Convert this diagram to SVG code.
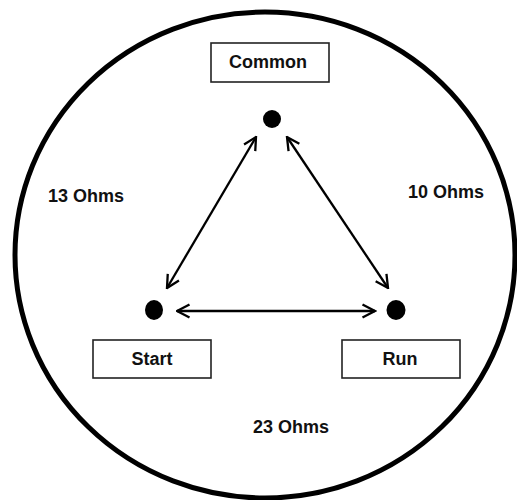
<svg xmlns="http://www.w3.org/2000/svg" width="517" height="500" viewBox="0 0 517 500">
<style>
.box{fill:#fff;stroke:#222;stroke-width:1.6}
.lbl{font-family:"Liberation Sans",Arial,sans-serif;font-weight:bold;font-size:18px;fill:#111;text-anchor:middle}
.dot{fill:#000}
.conn{stroke:#000;stroke-width:2.3;fill:none;marker-start:url(#ah);marker-end:url(#ah)}
</style>
<defs>
<marker id="ah" viewBox="0 0 16 16" refX="14.5" refY="8" markerWidth="16" markerHeight="16" markerUnits="userSpaceOnUse" orient="auto-start-reverse">
<path d="M2,1.5 L14.5,8 L2,14.5" fill="none" stroke="#000" stroke-width="2.3"/>
</marker>
</defs>
<rect width="517" height="500" fill="#fff"/>
<ellipse id="housing" cx="265" cy="255" rx="250" ry="243" fill="none" stroke="#000" stroke-width="5"/>
<g id="connectors">
<line class="conn" x1="256" y1="137" x2="167" y2="288"/>
<line class="conn" x1="287" y1="137" x2="388" y2="288"/>
<line class="conn" x1="177" y1="311" x2="375" y2="311"/>
</g>
<g id="common">
<rect class="box" x="211" y="43" width="118" height="39"/>
<text class="lbl" x="268" y="68">Common</text>
<circle class="dot" cx="272" cy="119" r="9"/>
</g>
<g id="start">
<rect class="box" x="93" y="340" width="118" height="38"/>
<text class="lbl" x="152" y="365">Start</text>
<ellipse class="dot" cx="154" cy="310" rx="9" ry="10"/>
</g>
<g id="run">
<rect class="box" x="342" y="340" width="118" height="38"/>
<text class="lbl" x="400" y="365">Run</text>
<ellipse class="dot" cx="396" cy="310" rx="9.5" ry="10"/>
</g>
<g id="labels">
<text class="lbl" x="86" y="202">13 Ohms</text>
<text class="lbl" x="446" y="198">10 Ohms</text>
<text class="lbl" x="291" y="433">23 Ohms</text>
</g>
</svg>
